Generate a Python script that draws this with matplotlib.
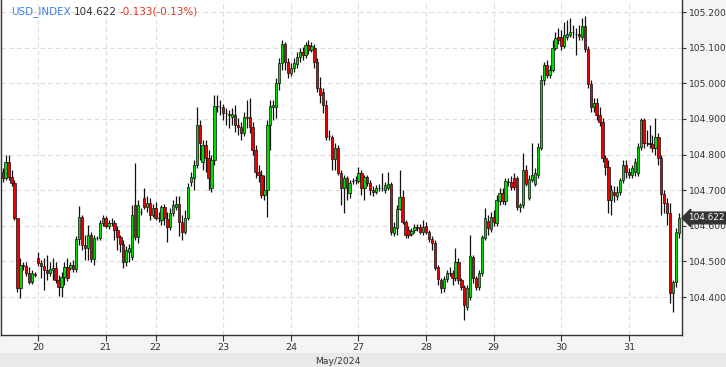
import numpy as np
import matplotlib
matplotlib.use('Agg')
import matplotlib.pyplot as plt
import matplotlib.transforms as mtransforms
from matplotlib.patches import Rectangle

# hourly USD_INDEX candles, 17 May (tail) .. 31 May 2024
opens = [
    104.658, 104.751, 104.734, 104.779, 104.737, 104.720, 104.622, 104.425, 104.490, 104.487, 104.467, 104.442, 104.465,
    104.510, 104.496, 104.487, 104.476, 104.467, 104.476, 104.481, 104.448, 104.428, 104.456, 104.484, 104.481, 104.490, 104.479, 104.563, 104.625, 104.546, 104.538, 104.574, 104.507, 104.566, 104.566, 104.608,
    104.622, 104.599, 104.608, 104.608, 104.588, 104.568, 104.549, 104.498, 104.526, 104.512, 104.658, 104.568, 104.639, 104.678, 104.653, 104.664, 104.630,
    104.650, 104.622, 104.616, 104.653, 104.619, 104.597, 104.636, 104.653, 104.661, 104.611, 104.583, 104.622, 104.723, 104.734, 104.771, 104.883, 104.779, 104.827, 104.790, 104.706, 104.785, 104.936, 104.933,
    104.933, 104.917, 104.914, 104.905, 104.911, 104.883, 104.877, 104.860, 104.902, 104.905, 104.877, 104.813, 104.751, 104.742, 104.686, 104.700, 104.883, 104.933, 104.933, 105.001, 105.057, 105.110, 105.060,
    105.029, 105.043, 105.054, 105.074, 105.088, 105.079, 105.107, 105.093, 105.099, 105.060, 104.987, 104.976, 104.939, 104.852, 104.849, 104.787, 104.818, 104.748, 104.706, 104.734, 104.692, 104.726, 104.728,
    104.726, 104.748, 104.706, 104.737, 104.720, 104.700, 104.695, 104.706, 104.706, 104.700, 104.706, 104.717, 104.580, 104.594, 104.647, 104.681, 104.611, 104.588, 104.577, 104.588, 104.597, 104.597, 104.583,
    104.599, 104.583, 104.563, 104.552, 104.484, 104.448, 104.425, 104.451, 104.467, 104.467, 104.453, 104.498, 104.448, 104.428, 104.372, 104.400, 104.512, 104.453, 104.428, 104.467, 104.566, 104.613, 104.591,
    104.625, 104.608, 104.669, 104.692, 104.669, 104.723, 104.723, 104.734, 104.734, 104.653, 104.658, 104.757, 104.678, 104.728, 104.717, 104.742, 104.818, 105.009, 105.051, 105.023, 105.037, 105.099, 105.130,
    105.130, 105.105, 105.130, 105.135, 105.144, 105.138, 105.138, 105.130, 105.161, 105.096, 104.998, 104.933, 104.945, 104.911, 104.891, 104.790, 104.765, 104.672, 104.695, 104.684, 104.695, 104.728, 104.771,
    104.751, 104.742, 104.751, 104.748, 104.821, 104.897, 104.832, 104.832, 104.829, 104.818, 104.849, 104.790, 104.689, 104.664, 104.636, 104.411, 104.442, 104.580,
]
closes = [
    104.740, 104.734, 104.779, 104.737, 104.720, 104.622, 104.425, 104.490, 104.487, 104.467, 104.442, 104.467, 104.462,
    104.496, 104.487, 104.476, 104.467, 104.479, 104.481, 104.448, 104.428, 104.456, 104.484, 104.453, 104.490, 104.479, 104.563, 104.625, 104.546, 104.538, 104.574, 104.507, 104.566, 104.566, 104.608, 104.622,
    104.599, 104.608, 104.608, 104.588, 104.568, 104.549, 104.498, 104.532, 104.538, 104.630, 104.568, 104.658, 104.639, 104.653, 104.664, 104.630, 104.650,
    104.622, 104.622, 104.653, 104.622, 104.597, 104.636, 104.658, 104.661, 104.611, 104.583, 104.622, 104.709, 104.737, 104.771, 104.883, 104.832, 104.827, 104.790, 104.734, 104.785, 104.936, 104.936, 104.933,
    104.917, 104.917, 104.911, 104.914, 104.883, 104.877, 104.860, 104.905, 104.905, 104.877, 104.813, 104.751, 104.742, 104.686, 104.700, 104.883, 104.936, 104.939, 105.001, 105.057, 105.110, 105.060, 105.029,
    105.043, 105.057, 105.074, 105.088, 105.079, 105.107, 105.093, 105.105, 105.060, 104.987, 104.967, 104.939, 104.849, 104.852, 104.787, 104.818, 104.748, 104.706, 104.734, 104.706, 104.720, 104.726, 104.728,
    104.748, 104.706, 104.737, 104.720, 104.700, 104.695, 104.706, 104.706, 104.706, 104.714, 104.717, 104.583, 104.597, 104.647, 104.681, 104.611, 104.574, 104.574, 104.585, 104.597, 104.594, 104.583, 104.597,
    104.583, 104.563, 104.552, 104.481, 104.451, 104.425, 104.451, 104.467, 104.467, 104.453, 104.498, 104.448, 104.428, 104.378, 104.425, 104.515, 104.453, 104.428, 104.467, 104.568, 104.622, 104.594, 104.625,
    104.611, 104.672, 104.692, 104.669, 104.726, 104.723, 104.709, 104.709, 104.653, 104.658, 104.757, 104.717, 104.731, 104.742, 104.748, 104.821, 105.009, 105.051, 105.023, 105.037, 105.099, 105.127, 105.121,
    105.105, 105.135, 105.138, 105.144, 105.144, 105.138, 105.133, 105.161, 105.096, 104.998, 104.933, 104.945, 104.911, 104.891, 104.790, 104.765, 104.672, 104.700, 104.686, 104.695, 104.728, 104.771, 104.751,
    104.742, 104.762, 104.779, 104.821, 104.897, 104.832, 104.832, 104.829, 104.818, 104.849, 104.790, 104.689, 104.664, 104.636, 104.411, 104.442, 104.583, 104.622,
]
highs = [
    104.757, 104.762, 104.799, 104.799, 104.757, 104.728, 104.622, 104.510, 104.498, 104.498, 104.484, 104.476, 104.470,
    104.526, 104.504, 104.510, 104.518, 104.498, 104.510, 104.498, 104.462, 104.470, 104.498, 104.510, 104.498, 104.504, 104.571, 104.656, 104.630, 104.574, 104.602, 104.583, 104.574, 104.571, 104.616, 104.630,
    104.627, 104.616, 104.622, 104.616, 104.599, 104.574, 104.560, 104.543, 104.549, 104.658, 104.776, 104.672, 104.650, 104.706, 104.684, 104.678, 104.661,
    104.667, 104.639, 104.658, 104.661, 104.639, 104.650, 104.672, 104.684, 104.684, 104.630, 104.644, 104.720, 104.751, 104.785, 104.933, 104.897, 104.841, 104.841, 104.813, 104.799, 104.967, 104.967, 104.953,
    104.942, 104.931, 104.925, 104.931, 104.939, 104.902, 104.891, 104.919, 104.953, 104.959, 104.891, 104.827, 104.771, 104.757, 104.742, 104.897, 104.953, 104.953, 105.015, 105.071, 105.121, 105.116, 105.071,
    105.057, 105.071, 105.088, 105.099, 105.102, 105.116, 105.121, 105.116, 105.110, 105.071, 105.018, 104.987, 104.953, 104.869, 104.855, 104.832, 104.827, 104.757, 104.742, 104.740, 104.728, 104.734, 104.740,
    104.765, 104.757, 104.742, 104.742, 104.728, 104.712, 104.714, 104.717, 104.748, 104.723, 104.751, 104.723, 104.611, 104.658, 104.757, 104.700, 104.616, 104.599, 104.594, 104.605, 104.605, 104.605, 104.616,
    104.611, 104.588, 104.571, 104.560, 104.490, 104.453, 104.459, 104.476, 104.484, 104.476, 104.538, 104.510, 104.453, 104.434, 104.434, 104.574, 104.518, 104.459, 104.476, 104.574, 104.650, 104.630, 104.639,
    104.644, 104.686, 104.706, 104.706, 104.734, 104.734, 104.740, 104.748, 104.740, 104.664, 104.804, 104.771, 104.742, 104.832, 104.762, 104.832, 105.023, 105.060, 105.065, 105.051, 105.121, 105.144, 105.155,
    105.149, 105.172, 105.178, 105.183, 105.163, 105.155, 105.163, 105.183, 105.189, 105.105, 105.009, 104.959, 104.959, 104.933, 104.902, 104.799, 104.785, 104.714, 104.712, 104.712, 104.734, 104.785, 104.785,
    104.762, 104.771, 104.790, 104.832, 104.902, 104.902, 104.869, 104.883, 104.855, 104.902, 104.860, 104.799, 104.700, 104.678, 104.664, 104.448, 104.594, 104.636,
]
lows = [
    104.625, 104.723, 104.728, 104.728, 104.712, 104.616, 104.414, 104.397, 104.476, 104.459, 104.437, 104.437, 104.456,
    104.487, 104.453, 104.420, 104.448, 104.459, 104.448, 104.439, 104.403, 104.400, 104.434, 104.445, 104.476, 104.470, 104.470, 104.546, 104.532, 104.504, 104.504, 104.498, 104.490, 104.560, 104.560, 104.599,
    104.594, 104.591, 104.599, 104.560, 104.532, 104.526, 104.481, 104.487, 104.498, 104.504, 104.560, 104.552, 104.630, 104.647, 104.639, 104.616, 104.625,
    104.616, 104.611, 104.602, 104.602, 104.554, 104.588, 104.627, 104.644, 104.571, 104.560, 104.577, 104.616, 104.712, 104.700, 104.762, 104.785, 104.757, 104.751, 104.700, 104.695, 104.771, 104.919, 104.911,
    104.897, 104.883, 104.874, 104.883, 104.863, 104.855, 104.841, 104.852, 104.874, 104.860, 104.799, 104.734, 104.723, 104.678, 104.672, 104.625, 104.813, 104.897, 104.902, 104.981, 105.037, 105.037, 105.015,
    105.020, 105.032, 105.043, 105.060, 105.065, 105.071, 105.082, 105.088, 105.043, 104.976, 104.945, 104.917, 104.841, 104.841, 104.757, 104.757, 104.742, 104.658, 104.636, 104.672, 104.678, 104.717, 104.717,
    104.720, 104.686, 104.672, 104.712, 104.686, 104.684, 104.689, 104.697, 104.697, 104.692, 104.700, 104.574, 104.571, 104.574, 104.644, 104.605, 104.566, 104.566, 104.571, 104.580, 104.585, 104.577, 104.574,
    104.577, 104.554, 104.532, 104.476, 104.434, 104.411, 104.414, 104.442, 104.459, 104.434, 104.445, 104.437, 104.420, 104.336, 104.364, 104.392, 104.439, 104.420, 104.420, 104.459, 104.560, 104.574, 104.583,
    104.599, 104.599, 104.658, 104.661, 104.658, 104.712, 104.700, 104.700, 104.644, 104.639, 104.650, 104.712, 104.672, 104.723, 104.712, 104.734, 104.813, 104.995, 105.015, 105.015, 105.032, 105.093, 105.110,
    105.093, 105.099, 105.121, 105.130, 105.127, 105.079, 105.121, 105.121, 105.088, 104.987, 104.919, 104.919, 104.897, 104.880, 104.779, 104.742, 104.636, 104.630, 104.667, 104.672, 104.686, 104.720, 104.734,
    104.734, 104.734, 104.740, 104.740, 104.813, 104.818, 104.824, 104.818, 104.807, 104.799, 104.771, 104.630, 104.636, 104.602, 104.383, 104.358, 104.428, 104.566,
]

day_labels = ['20', '21', '22', '23', '24', '27', '28', '29', '30', '31']
day_first_bar = [13, 36, 53, 76, 99, 122, 145, 168, 191, 214]

symbol = 'USD_INDEX'
last_price = 104.622
change = -0.133
change_pct = -0.13
month_label = 'May/2024'

W, H = 726, 367
GREEN = '#00dd00'
RED = '#ee0000'
TXT = '#333333'


def main():
    o = np.array(opens)
    c = np.array(closes)
    hi = np.maximum(np.array(highs), np.maximum(o, c))
    lo = np.minimum(np.array(lows), np.minimum(o, c))
    x = np.arange(len(c))

    fig = plt.figure(figsize=(W / 100, H / 100), dpi=100, facecolor='#f4f4f4')
    fig.patches.append(Rectangle((0, 0), 1, 14 / H, transform=fig.transFigure,
                                 fc='#e9e9e9', ec='none', zorder=-5))

    ax = fig.add_axes([1 / W, 32 / H, 681 / W, 335 / H])
    ax.set_facecolor('white')
    ax.set_zorder(2)

    ax.vlines(x, lo, hi, color='#111111', linewidth=0.9, zorder=2)
    up = c >= o
    colors = np.where(up, GREEN, RED)
    ax.bar(x, np.abs(c - o), bottom=np.minimum(o, c), width=0.8, color=colors,
           edgecolor='#111111', linewidth=0.5, zorder=3)

    ax.set_xlim(0.41, 232.04)
    ax.set_ylim(104.2934, 105.2337)

    ax.set_xticks(day_first_bar)
    ax.set_xticklabels(day_labels)
    yt = np.round(np.arange(104.4, 105.21, 0.1), 1)
    ax.set_yticks(yt)
    ax.set_yticklabels([f'{v:.3f}' for v in yt])
    ax.yaxis.tick_right()
    ax.tick_params(axis='y', direction='out', length=3, pad=2, labelsize=6.6,
                   colors=TXT)
    ax.tick_params(axis='x', direction='out', length=4, pad=2, labelsize=6.8,
                   colors=TXT)

    ax.grid(True, color='#dcdcdc', linestyle=(0, (4, 3)), linewidth=0.8)
    ax.set_axisbelow(True)
    for side in ['left', 'bottom', 'right']:
        ax.spines[side].set_color('#333333')
        ax.spines[side].set_linewidth(1.0)
    ax.spines['top'].set_visible(False)

    # current price tag on the right axis
    trans = mtransforms.blended_transform_factory(ax.transAxes, ax.transData)
    ax.text(1.009, last_price, f'{last_price:.3f}', transform=trans, ha='left', va='center',
            fontsize=6.4, color='white', zorder=10, clip_on=False,
            bbox=dict(boxstyle='larrow,pad=0.15', fc='#333333', ec='#333333'))

    fig.text(338 / W, 1 - 361 / H, month_label, ha='center', va='center',
             fontsize=6.6, color=TXT)

    # header: symbol, price and change
    renderer = fig.canvas.get_renderer()
    ty = 1 - 12 / H
    pieces = [(symbol, '#3f80e6'), (f'{last_price:.3f}', '#333333'),
              (f'{change:.3f}({change_pct:.2f}%)', '#e2361c')]
    px = 11
    for s, col in pieces:
        t = fig.text(px / W, ty, s, ha='left', va='center', fontsize=7.5, color=col)
        bb = t.get_window_extent(renderer)
        px = bb.x1 + 3

    fig.savefig('out.png', dpi=100, facecolor=fig.get_facecolor())


if __name__ == '__main__':
    main()
